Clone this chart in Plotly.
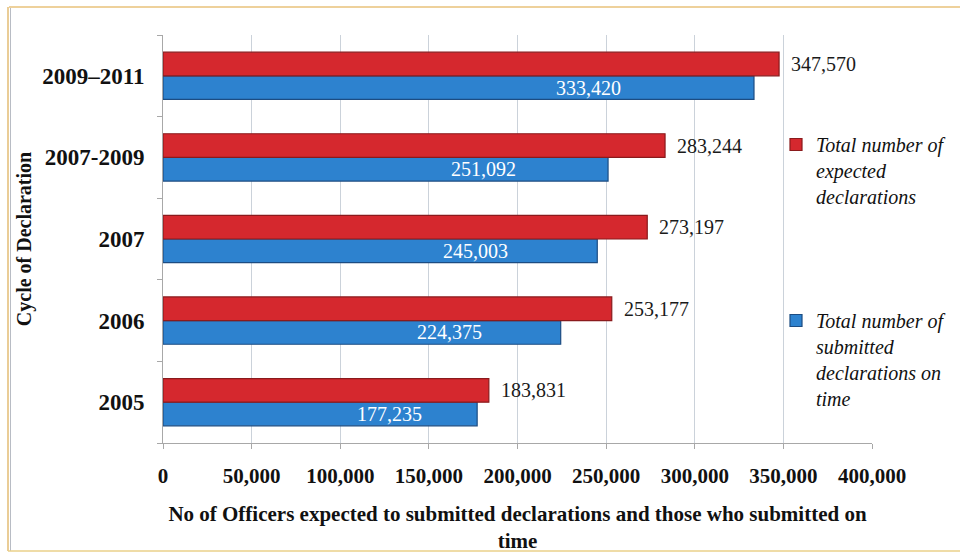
import plotly.graph_objects as go

# Declaration cycles (bottom to top) and officer counts
cycles = ["2005", "2006", "2007", "2007-2009", "2009\u20132011"]
expected = [183831, 253177, 273197, 283244, 347570]
submitted = [177235, 224375, 245003, 251092, 333420]

expected_name = "Total number of<br>expected<br>declarations"
submitted_name = "Total number of<br>submitted<br>declarations on<br>time"

x_ticks = [0, 50000, 100000, 150000, 200000, 250000, 300000, 350000, 400000]

W, H = 960, 553
ML, MR, MT, MB = 163, 88, 35, 110
PW, PH = W - ML - MR, H - MT - MB

SERIF = "Liberation Serif, Times New Roman, serif"
RED, RED_EDGE = "#d5282e", "#8a1a1c"
BLUE, BLUE_EDGE = "#2d82cf", "#1c4c82"


def px_x(px):
    return (px - ML) / PW


def px_y(py):
    return (H - MB - py) / PH


fig = go.Figure()

fig.add_trace(go.Bar(
    y=cycles, x=submitted, orientation="h", name=submitted_name,
    legendgroup="submitted", legendrank=2,
    marker=dict(color=BLUE, line=dict(color=BLUE_EDGE, width=1.2)),
))
fig.add_trace(go.Bar(
    y=cycles, x=expected, orientation="h", name=expected_name,
    legendgroup="expected", legendrank=1,
    marker=dict(color=RED, line=dict(color=RED_EDGE, width=1.2)),
))

annotations = []
half = (1 - 0.42) / 4  # centre offset of each bar within its category
for i, (e, s) in enumerate(zip(expected, submitted)):
    annotations.append(dict(
        x=e, y=i + half, xref="x", yref="y", text=f"{e:,}",
        showarrow=False, xanchor="left", xshift=10,
        font=dict(family=SERIF, size=20, color="#1a1a1a"),
    ))
    annotations.append(dict(
        x=s * 0.72, y=i - half, xref="x", yref="y", text=f"{s:,}",
        showarrow=False, xanchor="center",
        font=dict(family=SERIF, size=20, color="white"),
    ))

# outer frame of the chart
shapes = [
    dict(type="line", xref="paper", yref="paper",
         x0=px_x(9), x1=px_x(970), y0=px_y(7), y1=px_y(7),
         line=dict(color="#e8c27a", width=1.5)),
    dict(type="line", xref="paper", yref="paper",
         x0=px_x(8), x1=px_x(8), y0=px_y(7), y1=px_y(551),
         line=dict(color="#e3bd75", width=1.5)),
    dict(type="line", xref="paper", yref="paper",
         x0=px_x(10.5), x1=px_x(10.5), y0=px_y(8), y1=px_y(551),
         line=dict(color="#b8bcc4", width=1)),
    dict(type="line", xref="paper", yref="paper",
         x0=px_x(8), x1=px_x(970), y0=px_y(551), y1=px_y(551),
         line=dict(color="#ead08a", width=1.5)),
]

fig.update_layout(
    width=W, height=H,
    margin=dict(l=ML, r=MR, t=MT, b=MB, autoexpand=False),
    paper_bgcolor="white", plot_bgcolor="white",
    barmode="group", bargap=0.42, bargroupgap=0,
    showlegend=True,
    legend=dict(
        x=px_x(776), y=px_y(125), xanchor="left", yanchor="top",
        traceorder="grouped", tracegroupgap=95, valign="top",
        bgcolor="rgba(0,0,0,0)",
        font=dict(family=SERIF, size=20, color="#111111", style="italic"),
        itemwidth=30,
    ),
    xaxis=dict(
        range=[0, 400000], tickvals=x_ticks,
        ticktext=[f"{v:,}" for v in x_ticks],
        showgrid=True, gridcolor="#cbd2da", gridwidth=1, zeroline=False,
        showline=True, linecolor="#a8a8a8", linewidth=1,
        ticks="outside", ticklen=5, tickcolor="#a8a8a8",
        tickfont=dict(family=SERIF, size=21, color="#111111", weight="bold"),
        ticklabelstandoff=9,
        title=dict(
            text="No of Officers expected to submitted declarations and those who submitted on<br>time",
            font=dict(family=SERIF, size=21, color="#111111", weight="bold"),
            standoff=22,
        ),
    ),
    yaxis=dict(
        type="category", showgrid=False, zeroline=False,
        showline=True, linecolor="#a8a8a8", linewidth=1,
        ticks="outside", ticklen=5, tickcolor="#a8a8a8", tickson="boundaries",
        tickfont=dict(family=SERIF, size=23, color="#111111", weight="bold"),
        ticklabelstandoff=13,
        title=dict(
            text="Cycle of Declaration",
            font=dict(family=SERIF, size=20, color="#111111", weight="bold"),
            standoff=5,
        ),
    ),
    annotations=annotations,
    shapes=shapes,
)

fig.write_html("out.html")
